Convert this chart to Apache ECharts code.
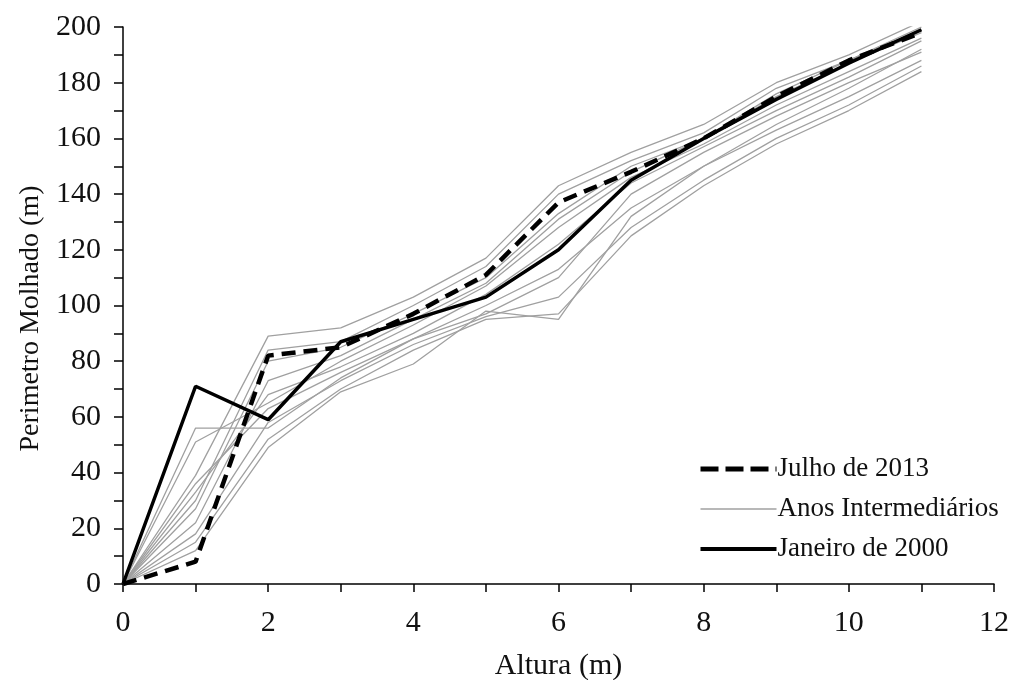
<!DOCTYPE html>
<html>
<head>
<meta charset="utf-8">
<script src="https://cdn.jsdelivr.net/npm/echarts@6/dist/echarts.min.js"></script>
<style>html,body{margin:0;padding:0;background:#fff}#c{width:1013px;height:680px}</style>
</head>
<body>
<div id="c"></div>
<script>
var heights = [0, 1, 2, 3, 4, 5, 6, 7, 8, 9, 10, 11];
var julho2013 = [0, 8, 82, 85, 97, 111, 137, 148, 160, 175, 188, 198];
var janeiro2000 = [0, 71, 59, 87, 95, 103, 120, 145, 160, 174, 187, 199];
var inter1 = [0, 39, 89, 92, 103, 117, 143, 155, 165, 180, 190, 202];
var inter2 = [0, 56, 56, 74, 88, 97, 110, 140, 155, 168, 180, 191];
var inter3 = [0, 51, 65, 80, 93, 107, 128, 146, 158, 172, 184, 196];
var inter4 = [0, 30, 84, 87, 100, 114, 140, 152, 162, 178, 188, 200];
var inter5 = [0, 27, 80, 85, 97, 110, 133, 150, 160, 175, 187, 198];
var inter6 = [0, 36, 63, 76, 88, 100, 113, 135, 150, 165, 178, 192];
var inter7 = [0, 22, 73, 82, 95, 108, 131, 148, 160, 176, 188, 199];
var inter8 = [0, 18, 58, 73, 86, 96, 103, 128, 145, 160, 172, 186];
var inter9 = [0, 15, 52, 70, 84, 95, 97, 125, 143, 158, 170, 184];
var inter10 = [0, 12, 49, 69, 79, 98, 95, 132, 150, 163, 175, 188];
var inter11 = [0, 33, 68, 78, 90, 104, 122, 144, 157, 170, 182, 195];
var intermediates = [inter1, inter2, inter3, inter4, inter5, inter6, inter7, inter8, inter9, inter10, inter11];

function pairs(ys) { return heights.map(function (h, i) { return [h, ys[i]]; }); }

var font = '"Liberation Serif", "Times New Roman", serif';
var series = [];
intermediates.forEach(function (arr) {
  series.push({
    name: 'Anos Intermediários', type: 'line', data: pairs(arr), symbol: 'none',
    lineStyle: { color: '#a0a0a0', width: 1.3 }, itemStyle: { color: '#a0a0a0' }, z: 2, silent: true
  });
});
series.push({
  name: 'Janeiro de 2000', type: 'line', data: pairs(janeiro2000), symbol: 'none',
  lineStyle: { color: '#000', width: 3.5 }, itemStyle: { color: '#000' }, z: 3
});
series.push({
  name: 'Julho de 2013', type: 'line', data: pairs(julho2013), symbol: 'none',
  lineStyle: { color: '#000', width: 4.5, type: [14, 8] }, itemStyle: { color: '#000' }, z: 4
});

var chart = echarts.init(document.getElementById('c'));
chart.setOption({
  animation: false,
  backgroundColor: '#fff',
  grid: { left: 123, right: 19, top: 27, bottom: 96, containLabel: false, outerBoundsMode: 'none' },
  legend: {
    data: [
      { name: 'Julho de 2013', lineStyle: { width: 5, type: [18, 7], color: '#000' } },
      { name: 'Anos Intermediários', lineStyle: { width: 1.3, color: '#a0a0a0' } },
      { name: 'Janeiro de 2000', lineStyle: { width: 4, color: '#000' } }
    ],
    orient: 'vertical', left: 693, top: 450, itemWidth: 76, itemHeight: 14, itemGap: 12,
    itemStyle: { opacity: 0 },
    textStyle: { fontFamily: font, fontSize: 27, lineHeight: 28, color: '#111', padding: [0, 0, 0, -4] }
  },
  xAxis: {
    type: 'value', min: 0, max: 12, interval: 1,
    name: 'Altura (m)', nameLocation: 'middle', nameGap: 67,
    nameTextStyle: { fontFamily: font, fontSize: 30, color: '#111' },
    axisLine: { show: true, lineStyle: { color: '#000', width: 1.5 } },
    axisTick: { show: true, inside: false, length: 8, lineStyle: { color: '#000', width: 1.5 } },
    axisLabel: {
      fontFamily: font, fontSize: 30, color: '#111', margin: 24,
      formatter: function (v) { return v % 2 === 0 ? String(v) : ''; }
    },
    splitLine: { show: false }
  },
  yAxis: {
    type: 'value', min: 0, max: 200, interval: 10,
    name: 'Perimetro Molhado (m)', nameLocation: 'middle', nameGap: 76, nameRotate: 90,
    nameTextStyle: { fontFamily: font, fontSize: 28, color: '#111', padding: [0, 26, 0, 0] },
    axisLine: { show: true, lineStyle: { color: '#000', width: 1.5 } },
    axisTick: { show: true, inside: false, length: 9, lineStyle: { color: '#000', width: 1.5 } },
    axisLabel: {
      fontFamily: font, fontSize: 30, color: '#111', margin: 22,
      formatter: function (v) { return v % 20 === 0 ? String(v) : ''; }
    },
    splitLine: { show: false }
  },
  series: series
});
</script>
</body>
</html>
